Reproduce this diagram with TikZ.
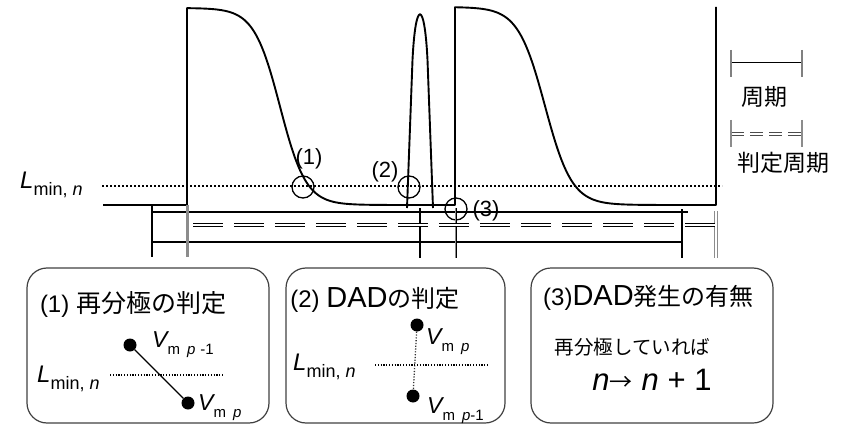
\documentclass[tikz,border=0pt]{standalone}
\usepackage{fontspec}
\setmainfont{Liberation Sans}
\newfontfamily\jpfont{Noto Sans CJK JP}
\newcommand\setfs[1]{\fontsize{#1}{#1}\selectfont}
\newcommand\LminLabel{{\setfs{24}\itshape L}\raisebox{-7pt}{\setfs{18}min, \itshape n}}
\newcommand\VmLabel[1]{{\setfs{23}\itshape V}\raisebox{-7pt}{\setfs{15}m\hspace{7pt}#1}}
\tikzset{
  apwave/.style={line width=1.9pt, line join=round},
  thr/.style={line width=1.6pt, dash pattern=on 1.6pt off 2.4pt},
  thrsmall/.style={line width=1.3pt, dash pattern=on 1.2pt off 1.6pt},
  ring/.style={circle, draw, line width=1.3pt, minimum size=22pt, inner sep=0pt},
  txt/.style={inner sep=0pt},
  panel/.style={draw=black!75, line width=1.2pt, rounded corners=20pt, minimum height=155pt},
  blob/.style={circle, fill=black, minimum size=13pt, inner sep=0pt},
  perline/.style={line width=1.1pt},
  gtick/.style={line width=3pt, draw=black!45},
  ddout/.style={line width=3.4pt, dash pattern=on 30pt off 11pt},
  ddin/.style={line width=1.2pt, draw=white, dash pattern=on 30pt off 11pt},
}
\begin{document}
\begin{tikzpicture}[x=1pt, y=-1pt]
\useasboundingbox (0,0) rectangle (843,425);

% threshold level L_min,n
\coordinate (thrL) at (102,186);
\coordinate (thrR) at (722,186);
\draw[thr] (thrL) -- (thrR);
\node[txt, anchor=base west] (lmin) at (20,188) {\LminLabel};

% action potentials
\draw[apwave] (103,205) -- (187,205) -- (187,8)
  -- plot[domain=187:455, samples=140] (\x,{8+197/(1+exp(-(\x-280)/13))})
  -- (455,8)
  -- plot[domain=455:716, samples=140] (\x,{7+198/(1+exp(-(\x-545)/13.5))})
  -- (716,7);
% afterdepolarisation spike
\draw[apwave] (407,208) -- (412.5,60) .. controls (415.5,-1) and (424.5,-1) .. (427.5,60) -- (433,208);

% check points
\node[ring] (c1) at (303,187) {};
\node[ring] (c2) at (409,187) {};
\node[ring] (c3) at (456,209) {};
\node[txt, font=\setfs{22}] (t1) at (309,159) {(1)};
\node[txt, font=\setfs{22}] (t2) at (385,172) {(2)};
\node[txt, font=\setfs{22}] (t3) at (486,211) {(3)};

% period spans
\draw[perline] (152,212) -- (688,212);
\draw[perline] (152,242) -- (682,242);
\draw[perline] (152,205) -- (152,257);
\draw[perline] (420,208) -- (420,258);
\draw[perline] (682,209) -- (682,258);
% judgement period
\draw[gtick] (187,205) -- (187,257);
\draw[line width=2pt, draw=black!45] (456,208) -- (456,258);
\draw[line width=0.9pt] (456,208) -- (456,258);
\draw[gtick, line width=4pt] (716,211) -- (716,258);
\draw[line width=1.2pt, draw=white] (716,211) -- (716,258);
\draw[ddout] (193,225) -- (716,225);
\draw[ddin] (193,225) -- (716,225);

% legend
\draw[line width=1pt] (731,63) -- (802,63);
\draw[line width=1.3pt, draw=black!50] (731,50) -- (731,77);
\draw[line width=1.3pt, draw=black!50] (802,50) -- (802,77);
\node[txt, font=\jpfont\setfs{23}] (lg1) at (764,97) {周期};
\draw[line width=3.2pt, draw=black!70, dash pattern=on 13pt off 6pt] (731,134) -- (802,134);
\draw[line width=1.2pt, draw=white, dash pattern=on 13pt off 6pt] (731,134) -- (802,134);
\draw[gtick, line width=2.5pt] (731,120) -- (731,147);
\draw[gtick, line width=2.5pt] (802,120) -- (802,147);
\node[txt, font=\jpfont\setfs{23}] (lg2) at (783.5,163) {判定周期};

% panel 1: repolarisation
\node[panel, minimum width=242pt] (p1) at (148,345.5) {};
\node[txt] (h1) at (133,304) {\setfs{24}(1) {\jpfont\setfs{25}再分極の判定}};
\node[blob] (a1) at (130,345) {};
\node[blob] (b1) at (188,403) {};
\draw[line width=1.4pt] (a1) -- (b1);
\coordinate (m1L) at (110,375);
\coordinate (m1R) at (223,375);
\draw[thrsmall] (m1L) -- (m1R);
\node[txt, anchor=base west] (l1) at (37,382) {\LminLabel};
\node[txt, anchor=base west] (v1a) at (152,347) {\VmLabel{\textit{p}\hspace{5pt}-1}};
\node[txt, anchor=base west] (v1b) at (198,410) {\VmLabel{\textit{p}}};

% panel 2: DAD
\node[panel, minimum width=219pt] (p2) at (395.5,345.5) {};
\node[txt] (h2) at (375,300) {\setfs{24}(2) {\setfs{29}DAD}{\jpfont の判定}};
\node[blob] (a2) at (417,325) {};
\node[blob] (b2) at (413,396) {};
\draw[thrsmall, draw=black!80] (a2) -- (b2);
\coordinate (m2L) at (375,365);
\coordinate (m2R) at (488,365);
\draw[thrsmall] (m2L) -- (m2R);
\node[txt, anchor=base west] (l2) at (293,370) {\LminLabel};
\node[txt, anchor=base west] (v2a) at (426,344) {\VmLabel{\textit{p}}};
\node[txt, anchor=base west] (v2b) at (427,413) {\VmLabel{\textit{p}-1}};

% panel 3: DAD occurrence
\node[panel, minimum width=242pt] (p3) at (652,345.5) {};
\node[txt] (h3) at (648.5,298) {\setfs{24}(3){\setfs{29}DAD}{\jpfont 発生の有無}};
\node[txt, font=\jpfont\setfs{19.5}] (r3) at (632.5,347) {再分極していれば};
\node[txt] (n3) at (652,380) {\setfs{31}\textit{n}{\jpfont\setfs{23}→}\hspace{9pt}\textit{n} + 1};
\end{tikzpicture}
\end{document}
